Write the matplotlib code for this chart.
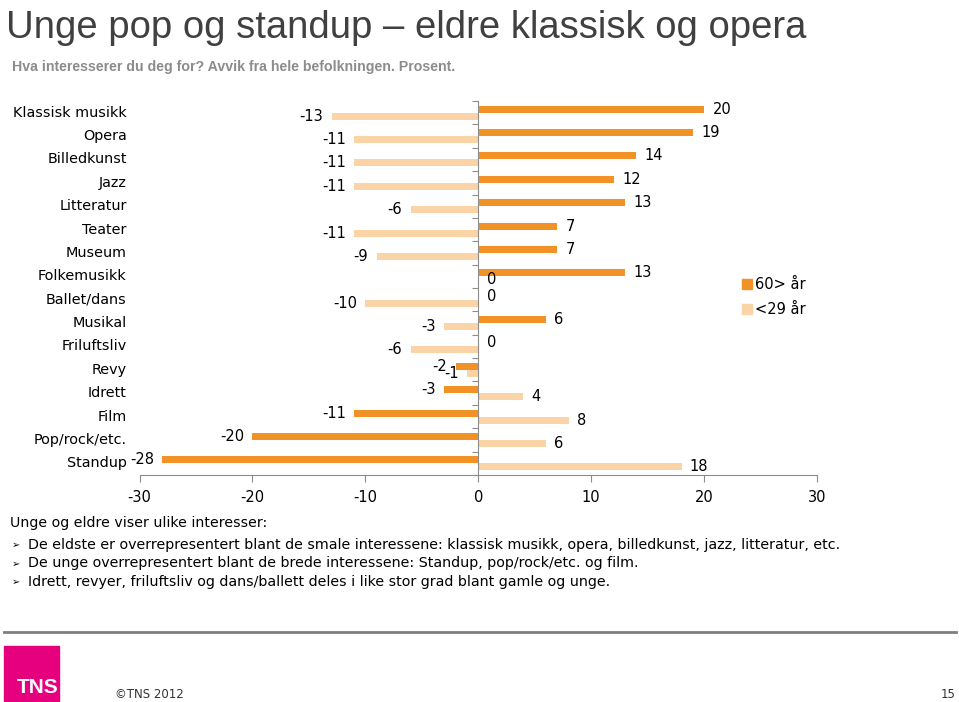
import matplotlib
matplotlib.use("Agg")
import matplotlib.pyplot as plt
import matplotlib.transforms as mtransforms
from matplotlib.patches import Patch, Rectangle
import numpy as np

categories = ["Klassisk musikk", "Opera", "Billedkunst", "Jazz", "Litteratur",
              "Teater", "Museum", "Folkemusikk", "Ballet/dans", "Musikal",
              "Friluftsliv", "Revy", "Idrett", "Film", "Pop/rock/etc.", "Standup"]
old_vals = [20, 19, 14, 12, 13, 7, 7, 13, 0, 6, 0, -2, -3, -11, -20, -28]
young_vals = [-13, -11, -11, -11, -6, -11, -9, 0, -10, -3, -6, -1, 4, 8, 6, 18]
series_labels = ["60> år", "<29 år"]
x_ticks = [-30, -20, -10, 0, 10, 20, 30]

DARK, LIGHT = "#F29226", "#FAD3A6"
GREY = "#8C8C8C"
ARIAL = ["Liberation Sans", "DejaVu Sans"]

plt.rcParams["font.family"] = ["DejaVu Sans"]
plt.rcParams["axes.unicode_minus"] = False
fig = plt.figure(figsize=(9.59, 7.02), dpi=100)
ax = fig.add_axes([0.1455, 0.3234, 0.7065, 0.5327])

y = np.arange(len(categories))
h = 0.3
ax.barh(y - h/2, old_vals, h, color=DARK, label=series_labels[0])
ax.barh(y + h/2, young_vals, h, color=LIGHT, label=series_labels[1])
ax.set_xlim(-30, 30)
ax.set_ylim(len(categories) - 0.5, -0.5)

# value labels
for vals, off in ((old_vals, -h/2), (young_vals, h/2)):
    for yi, v in zip(y, vals):
        if v < 0:
            ax.annotate(str(v), (v, yi + off), xytext=(-6, 0), textcoords="offset points",
                        ha="right", va="center", fontsize=10.5)
        else:
            ax.annotate(str(v), (v, yi + off), xytext=(6, 0), textcoords="offset points",
                        ha="left", va="center", fontsize=10.5)

# axes styling: vertical axis at zero, labels on far left
for s in ("top", "right"):
    ax.spines[s].set_visible(False)
ax.spines["left"].set_position(("data", 0))
ax.spines["left"].set_color(GREY)
ax.spines["bottom"].set_color(GREY)
ax.set_yticks(np.arange(len(categories) + 1) - 0.5)
ax.set_yticklabels([])
ax.tick_params(axis="y", length=4, color=GREY)
ax.set_xticks(x_ticks)
ax.tick_params(axis="x", length=5, color=GREY, labelsize=10.5, pad=6)
trans = mtransforms.blended_transform_factory(ax.transAxes, ax.transData)
for yi, c in zip(y, categories):
    ax.text(-0.019, yi, c, transform=trans, ha="right", va="center", fontsize=10.4)

handles = [Patch(color=DARK), Patch(color=LIGHT)]
fig.legend(handles, series_labels, loc="upper left", bbox_to_anchor=(0.76, 0.624),
           frameon=False, fontsize=10.5, handlelength=0.7, handleheight=0.7,
           handletextpad=0.2, labelspacing=0.7)

# titles
fig.text(0.006, 0.986, "Unge pop og standup – eldre klassisk og opera",
         family=ARIAL, fontsize=27.5, color="#404040", va="top")
fig.text(0.013, 0.905, "Hva interesserer du deg for? Avvik fra hele befolkningen. Prosent.",
         family=ARIAL, fontsize=10.2, fontweight="bold", color=GREY, va="center")

# commentary
fig.text(0.010, 1 - 523/702, "Unge og eldre viser ulike interesser:", fontsize=10.2, va="center")
bullets = ["De eldste er overrepresentert blant de smale interessene: klassisk musikk, opera, billedkunst, jazz, litteratur, etc.",
           "De unge overrepresentert blant de brede interessene: Standup, pop/rock/etc. og film.",
           "Idrett, revyer, friluftsliv og dans/ballett deles i like stor grad blant gamle og unge."]
for i, b in enumerate(bullets):
    yy = 1 - (545 + 18.5*i)/702
    fig.text(0.012, yy, "➢", fontsize=7, va="center")
    fig.text(0.029, yy, b, fontsize=10.3, va="center")

# footer
fig.add_artist(plt.Line2D([0.004, 0.997], [1 - 632/702]*2, color="#7F7F7F", lw=2))
fig.add_artist(Rectangle((0.004, 0.002), 0.058, 0.078, color="#E6007E"))
fig.text(0.017, 0.013, "TNS", family=ARIAL, fontsize=15, fontweight="bold", color="white")
fig.text(0.120, 1 - 695/702, "©TNS 2012", fontsize=8.5, color="#333333", va="center")
fig.text(0.996, 1 - 694/702, "15", fontsize=8.5, color="#333333", va="center", ha="right")

fig.savefig("out.png", dpi=100)
